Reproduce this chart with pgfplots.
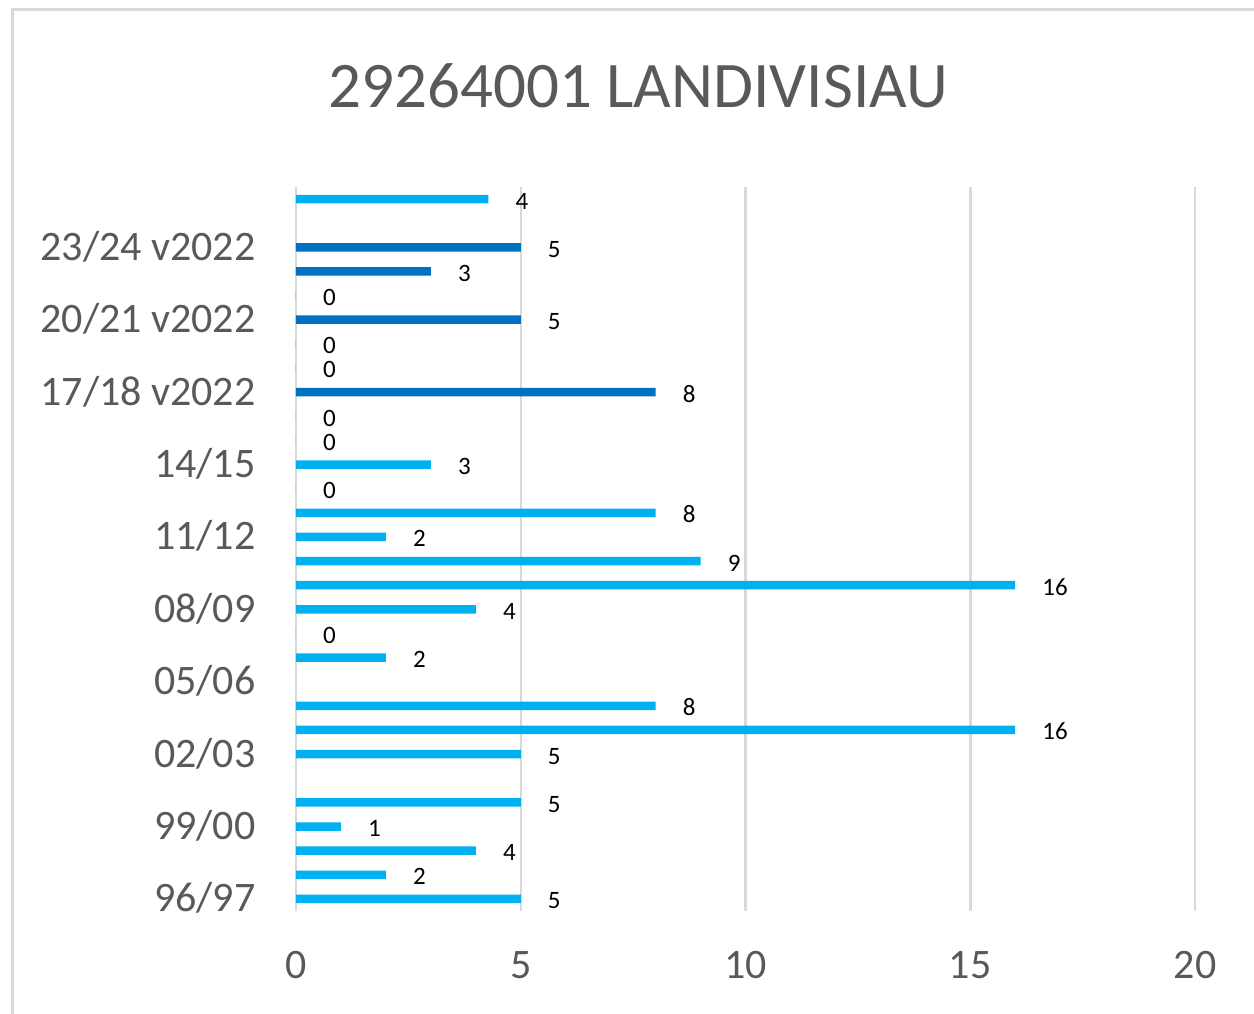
\documentclass[border=0pt]{standalone}
\usepackage{pgfplots}
\pgfplotsset{compat=1.18}
\usepackage{fontspec}
\setmainfont{Carlito}
\definecolor{lightb}{HTML}{00B0F0}
\definecolor{darkb}{HTML}{0070C0}
\definecolor{txt}{HTML}{595959}
\definecolor{gridc}{HTML}{D9D9D9}
\begin{document}
\begin{tikzpicture}[x=1pt,y=1pt]
\useasboundingbox (0,0) rectangle (1254,1013);
\draw[gridc, line width=3pt] (12,-10) rectangle (1280,1003);
\node[anchor=base, inner sep=0pt, text=txt, font=\fontsize{65}{78}\selectfont] at (638,905) {29264001 LANDIVISIAU};
\begin{axis}[
  at={(296pt,102pt)}, anchor=south west,
  scale only axis, width=899pt, height=724pt,
  xmin=0, xmax=20, ymin=-0.5, ymax=29.5,
  xtick={0,5,10,15,20},
  ytick={0,3,6,9,12,15,18,21,24,27},
  yticklabels={96/97,99/00,02/03,05/06,08/09,11/12,14/15,17/18 v2022,20/21 v2022,23/24 v2022},
  xmajorgrids, grid style={gridc, line width=2.5pt},
  axis line style={draw=none}, major tick style={draw=none},
  /pgf/number format/assume math mode=true,
  ticklabel style={font=\fontsize{42}{50}\selectfont, text=txt, inner sep=0pt},
  xticklabel style={anchor=base, yshift=-67pt},
  yticklabel style={anchor=base east, xshift=-36pt, yshift=-13pt},
  xbar, bar width=8.5pt, bar shift=0pt,
  clip=false,
  nodes near coords={\pgfmathprintnumber[fixed,precision=0]{\pgfplotspointmeta}},
  every node near coord/.append style={anchor=base west, inner sep=0pt, xshift=27pt, yshift=-10pt, text=black, font=\fontsize{25}{30}\selectfont},
]
\addplot[fill=lightb, draw=none] coordinates {
 (5,0) (2,1) (4,2) (1,3) (5,4) (5,6) (16,7) (8,8) (2,10) (0,11) (4,12) (16,13) (9,14) (2,15) (8,16) (0,17) (3,18) (0,19) (0,20) (4.28,29)
};
\addplot[fill=darkb, draw=none] coordinates {
 (8,21) (0,22) (0,23) (5,24) (0,25) (3,26) (5,27)
};
\end{axis}
\end{tikzpicture}
\end{document}
